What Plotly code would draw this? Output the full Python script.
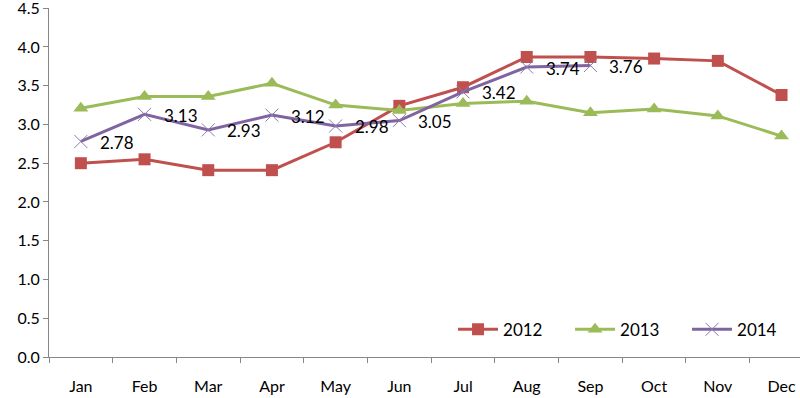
import plotly.graph_objects as go

months = ["Jan", "Feb", "Mar", "Apr", "May", "Jun", "Jul", "Aug", "Sep", "Oct", "Nov", "Dec"]
y2012 = [2.50, 2.55, 2.41, 2.41, 2.77, 3.24, 3.48, 3.87, 3.87, 3.85, 3.82, 3.38]
y2013 = [3.21, 3.36, 3.36, 3.53, 3.25, 3.18, 3.27, 3.30, 3.15, 3.20, 3.11, 2.85]
y2014 = [2.78, 3.13, 2.93, 3.12, 2.98, 3.05, 3.42, 3.74, 3.76]
months2014 = months[:len(y2014)]
yticks = [0.0, 0.5, 1.0, 1.5, 2.0, 2.5, 3.0, 3.5, 4.0, 4.5]

FONT = "Lato, Open Sans, sans-serif"
fig = go.Figure()
fig.add_trace(go.Scatter(x=months, y=y2012, name="2012", mode="lines+markers",
                         line=dict(color="#C0504D", width=3),
                         marker=dict(symbol="square", size=12, color="#C0504D")))
fig.add_trace(go.Scatter(x=months, y=y2013, name="2013", mode="lines+markers",
                         line=dict(color="#9BBB59", width=3),
                         marker=dict(symbol="triangle-up", size=13, color="#9BBB59")))
fig.add_trace(go.Scatter(x=months2014, y=y2014, name="2014", mode="lines+markers",
                         line=dict(color="#8064A2", width=3),
                         marker=dict(symbol="x-thin", size=13,
                                     line=dict(color="#8C7BB0", width=1))))
for m, v in zip(months2014, y2014):
    fig.add_annotation(x=m, y=v, text=f"{v:.2f}", showarrow=False, xanchor="left",
                       yanchor="middle", xshift=17, yshift=-1,
                       font=dict(family=FONT, size=17, color="#000000"))

fig.update_layout(
    width=800, height=398,
    margin=dict(l=49, r=0, t=8, b=41, autoexpand=False),
    plot_bgcolor="white", paper_bgcolor="white",
    font=dict(family=FONT, size=16, color="#000000"),
    legend=dict(orientation="h", x=0.538, y=0.078, xanchor="left", yanchor="middle",
                font=dict(family=FONT, size=17), itemwidth=40, entrywidth=62,
                bgcolor="rgba(0,0,0,0)"),
    xaxis=dict(type="category", categoryorder="array", categoryarray=months,
               range=[-0.5, 11.29], showgrid=False, showline=True, automargin=False,
               linecolor="#878787", linewidth=1, ticks="outside",
               tickson="boundaries", ticklen=5, tickcolor="#878787",
               ticklabelstandoff=15,
               ticklabeloverflow="allow", tickfont=dict(family=FONT, size=16)),
    yaxis=dict(range=[0, 4.502], tickvals=yticks, automargin=False,
               ticktext=[f"{t:.1f}" for t in yticks], showgrid=False,
               showline=True, linecolor="#878787", linewidth=1,
               ticks="outside", ticklen=5, tickcolor="#878787", zeroline=False,
               ticklabeloverflow="allow", tickfont=dict(family=FONT, size=16)),
)
fig.write_html("out.html", config={"displayModeBar": False},
               post_script="document.body.style.margin='0';")
